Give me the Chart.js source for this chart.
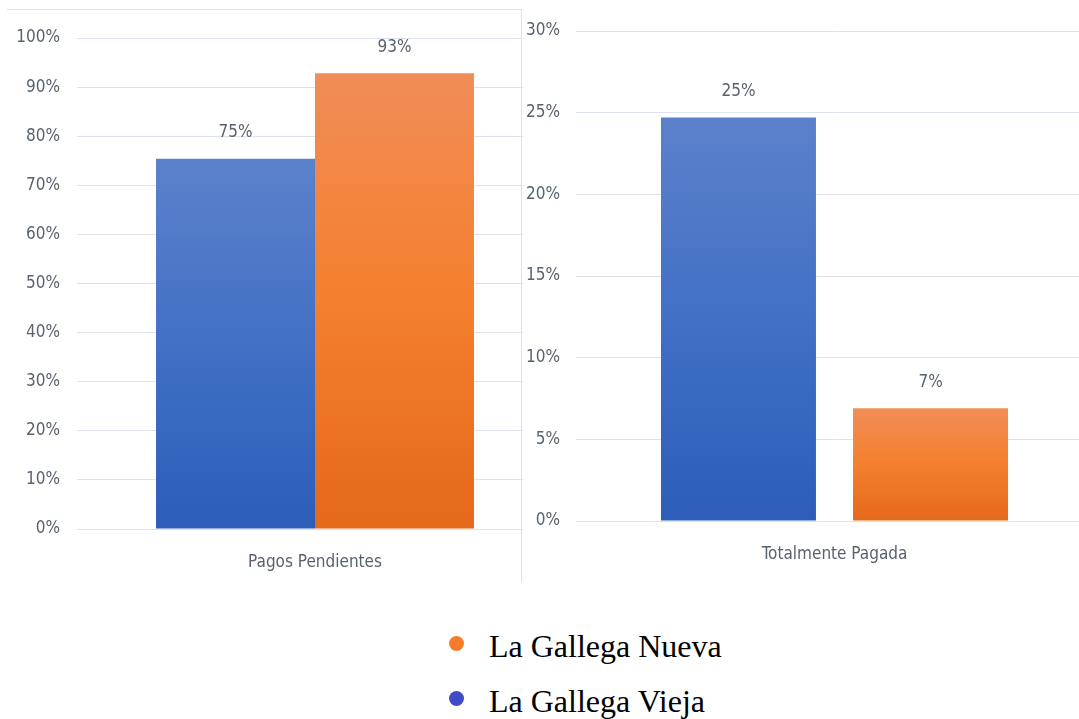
<!DOCTYPE html>
<html lang="es">
<head>
<meta charset="utf-8">
<script src="https://cdn.jsdelivr.net/npm/chart.js@4.4.1/dist/chart.umd.min.js"></script>
<style>
  html, body { margin: 0; padding: 0; background: #fff; }
  body { position: relative; width: 1079px; height: 719px; overflow: hidden; }
  #leftChart { position: absolute; left: 0; top: 0; }
  #leftFrame {
    position: absolute; left: 7px; top: 9px; width: 515px; height: 573px;
    box-sizing: border-box; border-top: 1px solid #dde3ec; border-right: 1px solid #dde3ec;
  }
  #rightChart { position: absolute; left: 523px; top: 0; background: #fff; }
  .legend-row { position: absolute; left: 449px; height: 32px; line-height: 32px;
    font-family: "Liberation Serif", "Times New Roman", serif; font-size: 32px; color: #000; white-space: nowrap; }
  .legend-dot { position: absolute; top: 6px; width: 15px; height: 15px; border-radius: 50%; }
  .legend-text { position: absolute; left: 40px; top: 0; }
</style>
</head>
<body>
<canvas id="leftChart" width="560" height="600"></canvas>
<div id="leftFrame"></div>
<canvas id="rightChart" width="600" height="600"></canvas>
<div id="legend"></div>

<script>
// datos
const seriesNames   = ["La Gallega Vieja", "La Gallega Nueva"];
const legendOrder   = ["La Gallega Nueva", "La Gallega Vieja"];
const pendCategories = ["Pagos Pendientes"];
const viejaPend     = [75.4];
const nuevaPend     = [92.8];
const pagCategories = ["Totalmente Pagada"];
const viejaPag      = [24.7];
const nuevaPag      = [6.9];
const pendTicks     = { max: 100, step: 10 };
const pagTicks      = { max: 30, step: 5 };

const TEXT = "#59626f";
const GRID = "#dde3ec";
const FONT = "'Liberation Sans Narrow', 'DejaVu Sans Condensed', 'Noto Sans', sans-serif";
const FONT_SIZE = 17;

const blueStops   = ["#5c81cb", "#4170c5", "#2c5db8"];
const orangeStops = ["#f18d58", "#f47f2c", "#e4691a"];
const legendColors = { "La Gallega Nueva": "#f57d2a", "La Gallega Vieja": "#3f4bc9" };

// degradado vertical por barra, de su tope a la base
function barGradient(stops) {
  return ctx => {
    const chart = ctx.chart;
    if (!chart.chartArea || !ctx.parsed) return stops[1];
    const y = chart.scales.y;
    const top = y.getPixelForValue(ctx.parsed.y);
    const bottom = y.getPixelForValue(0);
    const g = chart.ctx.createLinearGradient(0, top, 0, bottom);
    g.addColorStop(0, stops[0]);
    g.addColorStop(0.5, stops[1]);
    g.addColorStop(1, stops[2]);
    return g;
  };
}

// etiquetas de valor encima de cada barra
const valueLabels = {
  id: "valueLabels",
  afterDatasetsDraw(chart) {
    const c = chart.ctx;
    c.save();
    c.font = FONT_SIZE + "px " + FONT;
    c.fillStyle = TEXT;
    c.textAlign = "center";
    c.textBaseline = "middle";
    chart.data.datasets.forEach((ds, i) => {
      chart.getDatasetMeta(i).data.forEach((bar, j) => {
        c.fillText(Math.round(ds.data[j]) + "%", bar.x, bar.y - 26);
      });
    });
    c.restore();
  }
};

function makeChart(id, labels, vieja, nueva, ticks, opts) {
  return new Chart(document.getElementById(id), {
    type: "bar",
    data: {
      labels,
      datasets: [
        { label: seriesNames[0], data: vieja, backgroundColor: barGradient(blueStops) },
        { label: seriesNames[1], data: nueva, backgroundColor: barGradient(orangeStops) }
      ]
    },
    options: {
      responsive: false,
      animation: false,
      layout: { padding: opts.padding },
      datasets: { bar: { barPercentage: opts.barPct, categoryPercentage: opts.catPct } },
      plugins: { legend: { display: false }, tooltip: { enabled: false } },
      scales: {
        x: {
          grid: { display: false },
          border: { display: false },
          ticks: { color: TEXT, font: { family: FONT, size: FONT_SIZE }, padding: 15 },
          afterFit: s => { s.height = 50; }
        },
        y: {
          min: 0, max: ticks.max,
          grid: { color: GRID, lineWidth: 1, drawTicks: false },
          border: { display: false },
          ticks: {
            stepSize: ticks.step, color: TEXT, padding: opts.tickPad,
            font: { family: FONT, size: FONT_SIZE },
            callback: v => v + "%"
          },
          afterFit: s => { s.width = opts.axisWidth; }
        }
      }
    },
    plugins: [valueLabels]
  });
}

makeChart("leftChart", pendCategories, viejaPend, nuevaPend, pendTicks, {
  padding: { top: 38, right: 7, bottom: 21, left: 0 },
  axisWidth: 77, tickPad: 17, barPct: 1, catPct: 0.668
});

makeChart("rightChart", pagCategories, viejaPag, nuevaPag, pagTicks, {
  padding: { top: 31, right: 30, bottom: 29, left: 0 },
  axisWidth: 53, tickPad: 16, barPct: 0.807, catPct: 0.743
});

// leyenda
const legend = document.getElementById("legend");
legendOrder.forEach((name, i) => {
  const row = document.createElement("div");
  row.className = "legend-row";
  row.style.top = (630 + i * 55) + "px";
  const dot = document.createElement("span");
  dot.className = "legend-dot";
  dot.style.background = legendColors[name];
  const txt = document.createElement("span");
  txt.className = "legend-text";
  txt.textContent = name;
  row.appendChild(dot);
  row.appendChild(txt);
  legend.appendChild(row);
});
</script>
</body>
</html>
